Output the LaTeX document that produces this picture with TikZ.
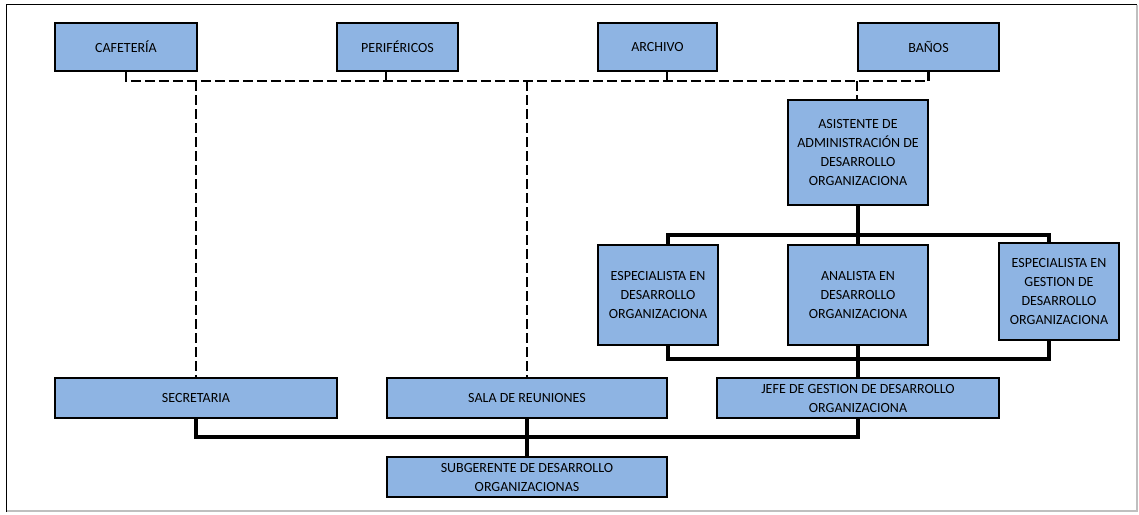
\documentclass[tikz,border=0pt]{standalone}
\usepackage{fontspec}
\setmainfont{Carlito}
\definecolor{boxblue}{HTML}{8EB4E3}
\begin{document}
\begin{tikzpicture}[x=1pt,y=-1pt,
  box/.style={draw=black, line width=1.8pt, fill=boxblue, align=center, inner sep=0pt, font=\fontsize{14}{19}\selectfont},
  dash line/.style={line width=2.8pt, dash pattern=on 10pt off 4pt},
  solid line/.style={line width=3.4pt}]
\useasboundingbox (0,0) rectangle (1139,514);
% frame
\draw[black, line width=1.5pt] (6.5,512) -- (6.5,4.5) -- (1137,4.5);
\draw[black!25, line width=1.5pt] (1137,4.5) -- (1137,511) -- (6.5,511);
% top row
\node[box, minimum width=142pt, minimum height=48pt] (caf) at (126,47) {CAFETERÍA};
\node[box, minimum width=121pt, minimum height=48pt] (per) at (397.5,47) {PERIFÉRICOS};
\node[box, minimum width=119pt, minimum height=48pt] (arc) at (657.5,47) {ARCHIVO};
\node[box, minimum width=141pt, minimum height=48pt] (ban) at (928.5,47) {BAÑOS};
% assistant
\node[box, minimum width=140pt, minimum height=105pt] (asi) at (858,152.5) {ASISTENTE DE\\ADMINISTRACIÓN DE\\DESARROLLO\\ORGANIZACIONA};
% middle row
\node[box, minimum width=120pt, minimum height=100pt] (esp1) at (658,295) {ESPECIALISTA EN\\DESARROLLO\\ORGANIZACIONA};
\node[box, minimum width=140pt, minimum height=100pt] (ana) at (858,295) {ANALISTA EN\\DESARROLLO\\ORGANIZACIONA};
\node[box, minimum width=120pt, minimum height=97pt] (esp2) at (1059,291.5) {ESPECIALISTA EN\\GESTION DE\\DESARROLLO\\ORGANIZACIONA};
% bottom row
\node[box, minimum width=282pt, minimum height=40pt] (sec) at (196,398) {SECRETARIA};
\node[box, minimum width=280pt, minimum height=40pt] (sal) at (527,398) {SALA DE REUNIONES};
\node[box, minimum width=282pt, minimum height=40pt] (jef) at (858,398) {JEFE DE GESTION DE DESARROLLO\\ORGANIZACIONA};
\node[box, minimum width=280pt, minimum height=40pt] (sub) at (527,477) {SUBGERENTE DE DESARROLLO\\ORGANIZACIONAS};
% dashed connectors
\coordinate (dl) at (126,81);
\coordinate (dr) at (928.5,81);
\coordinate (dp) at (386,81);
\coordinate (da) at (667,81);
\coordinate (ds) at (196,81);
\coordinate (dm) at (527,81);
\coordinate (dn) at (857,81);
\draw[dash line] (caf.south) -- (dl) -- (dr) -- (ban.south);
\draw[dash line] (per.south -| dp) -- (dp);
\draw[dash line] (arc.south -| da) -- (da);
\draw[dash line] (ds) -- (sec.north);
\draw[dash line] (dm) -- (sal.north);
\draw[dash line] (dn) -- (asi.north -| dn);
% solid connectors
\coordinate (t1) at (668,235);
\coordinate (t2) at (1049,235);
\coordinate (b1) at (668,359);
\coordinate (b2) at (1049,359);
\coordinate (c1) at (196,437);
\coordinate (c2) at (858,437);
\draw[solid line] (esp1.north -| t1) -- (t1) -- (t2) -- (esp2.north -| t2);
\draw[solid line] (asi.south) -- (ana.north);
\draw[solid line] (esp1.south -| b1) -- (b1) -- (b2) -- (esp2.south -| b2);
\draw[solid line] (ana.south) -- (jef.north);
\draw[solid line] (sec.south) -- (c1) -- (c2) -- (jef.south);
\draw[solid line] (sal.south) -- (sub.north);
\end{tikzpicture}
\end{document}
